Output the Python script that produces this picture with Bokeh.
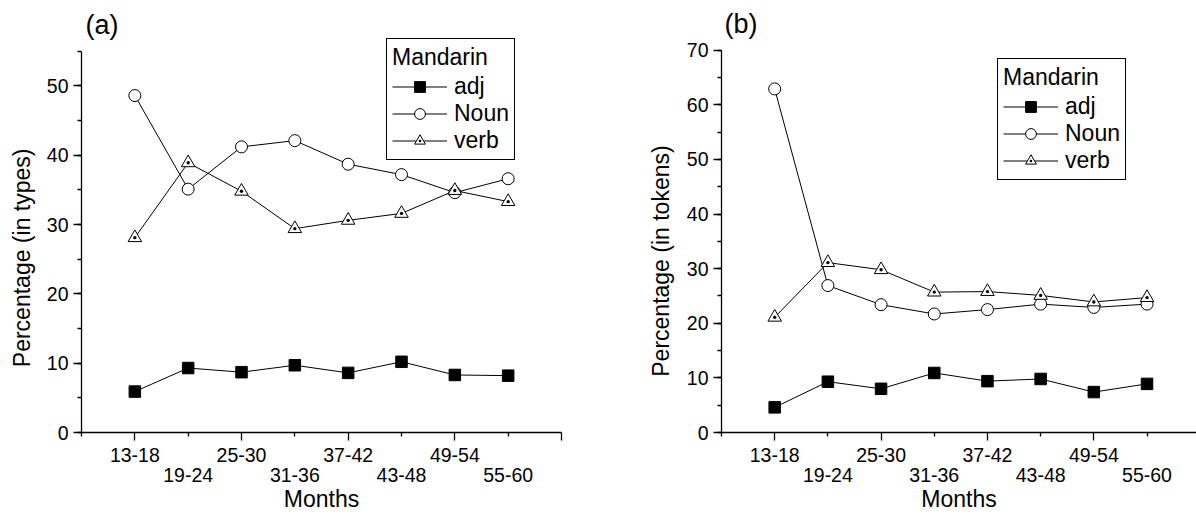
from bokeh.plotting import figure
from bokeh.layouts import row
from bokeh.models import (LinearAxis, FixedTicker, SingleIntervalTicker, Range1d,
                          Legend, LegendItem, Title)
from bokeh.embed import file_html
from bokeh.resources import INLINE

# ---------------- data ----------------
months = ["13-18", "19-24", "25-30", "31-36", "37-42", "43-48", "49-54", "55-60"]

adj_types = [5.9, 9.3, 8.7, 9.7, 8.6, 10.2, 8.3, 8.2]
noun_types = [48.6, 35.1, 41.2, 42.1, 38.7, 37.2, 34.6, 36.6]
verb_types = [28.1, 38.9, 34.8, 29.4, 30.6, 31.6, 34.9, 33.3]

adj_tokens = [4.6, 9.3, 8.0, 10.9, 9.4, 9.8, 7.4, 8.9]
noun_tokens = [62.9, 26.9, 23.4, 21.7, 22.5, 23.5, 22.9, 23.5]
verb_tokens = [21.1, 31.1, 29.8, 25.7, 25.8, 25.1, 23.9, 24.7]

series_names = ["adj", "Noun", "verb"]
legend_title = "Mandarin"

FONT = "Liberation Sans"
NBSP = "\u00a0"


def style_axis(ax, label_size="19.5px"):
    ax.axis_line_color = "black"
    ax.axis_line_width = 1.3
    ax.major_tick_line_color = "black"
    ax.major_tick_line_width = 1.3
    ax.minor_tick_line_color = "black"
    ax.minor_tick_line_width = 1.3
    ax.major_tick_in = 0
    ax.major_tick_out = 8
    ax.minor_tick_in = 0
    ax.minor_tick_out = 4
    ax.major_label_text_font = FONT
    ax.major_label_text_font_size = label_size
    ax.major_label_text_color = "black"
    ax.axis_label_text_font = FONT
    ax.axis_label_text_font_size = "23px"
    ax.axis_label_text_font_style = "normal"
    ax.axis_label_text_color = "black"


def make_panel(tag, ylabel, adj, noun, verb, ymax_axis, ymax_range, xmax, width,
               bl, br, legend_xy, title_offset, title_standoff, ylab_standoff, ylab_pad):
    xs = list(range(1, len(months) + 1))
    p = figure(width=width, height=514, output_backend="svg", toolbar_location=None,
               x_range=Range1d(0, xmax), y_range=Range1d(0, ymax_range),
               min_border_left=bl, min_border_right=br,
               min_border_top=38, min_border_bottom=81,
               outline_line_color=None, background_fill_color="white",
               border_fill_color="white")
    p.title = Title(text=tag, align="left", offset=title_offset, standoff=title_standoff,
                    text_font=FONT, text_font_size="27px", text_font_style="normal",
                    text_color="black")
    p.grid.visible = False

    # y axis (label padded so that it sits a little below the axis centre, as in the original)
    yax = p.yaxis[0]
    yax.ticker = SingleIntervalTicker(interval=10, num_minor_ticks=2)
    yax.bounds = (0, ymax_axis)
    style_axis(yax)
    yax.major_label_standoff = 5
    yax.axis_label = ylabel + NBSP * ylab_pad
    yax.axis_label_standoff = ylab_standoff

    # x axis: first row of labels (odd categories)
    xax = p.xaxis[0]
    n = len(months)
    xax.ticker = FixedTicker(ticks=[i for i in range(1, n + 2, 2)],
                             minor_ticks=[i for i in range(0, n + 1, 2)])
    over1 = {i + 1: months[i] for i in range(0, n, 2)}
    over1[n + 1] = ""
    xax.major_label_overrides = over1
    style_axis(xax)
    xax.major_label_standoff = 7

    # second row of labels (even categories) + axis title
    ax2 = LinearAxis(ticker=FixedTicker(ticks=[i + 1 for i in range(1, n, 2)], minor_ticks=[]))
    ax2.major_label_overrides = {i + 1: months[i] for i in range(1, n, 2)}
    style_axis(ax2)
    ax2.axis_line_color = None
    ax2.major_tick_out = 0
    ax2.major_tick_line_color = None
    ax2.minor_tick_line_color = None
    ax2.major_label_standoff = 3
    ax2.axis_label = "Months"
    ax2.axis_label_standoff = 1
    p.add_layout(ax2, "below")

    # lines
    la = p.line(xs, adj, line_color="black", line_width=1)
    ln = p.line(xs, noun, line_color="black", line_width=1)
    lv = p.line(xs, verb, line_color="black", line_width=1)
    # markers
    sa = p.scatter(xs, adj, marker="square", size=11.5, fill_color="black", line_color="black")
    sn = p.scatter(xs, noun, marker="circle", size=12, fill_color="white", line_color="black",
                   line_width=1)
    sv = p.scatter(xs, verb, marker="triangle_dot", size=13.5, fill_color="white",
                   line_color="black", line_width=1)

    legend = Legend(items=[LegendItem(label=series_names[0], renderers=[la, sa]),
                           LegendItem(label=series_names[1], renderers=[ln, sn]),
                           LegendItem(label=series_names[2], renderers=[lv, sv])],
                    location=legend_xy, title=legend_title,
                    padding=5, spacing=0, margin=0,
                    glyph_width=55, glyph_height=27, label_height=27, label_standoff=7,
                    title_standoff=2,
                    border_line_color="black", border_line_width=1, border_line_alpha=1,
                    background_fill_color="white", background_fill_alpha=1,
                    label_text_font=FONT, label_text_font_size="23px",
                    label_text_color="black",
                    title_text_font=FONT, title_text_font_size="23px",
                    title_text_font_style="normal", title_text_color="black")
    p.add_layout(legend)
    return p


pa = make_panel("(a)", "Percentage (in types)", adj_types, noun_types, verb_types,
                ymax_axis=55, ymax_range=56.83, xmax=9, width=600, bl=81, br=39,
                legend_xy=(305, 272), title_offset=4, title_standoff=-2,
                ylab_standoff=9, ylab_pad=7)
pb = make_panel("(b)", "Percentage (in tokens)", adj_tokens, noun_tokens, verb_tokens,
                ymax_axis=70, ymax_range=72.13, xmax=8.93, width=596, bl=121, br=0,
                legend_xy=(276, 252), title_offset=3, title_standoff=-1,
                ylab_standoff=10, ylab_pad=8)

layout = row(pa, pb, spacing=0)
open("out.html", "w").write(file_html(layout, INLINE))
